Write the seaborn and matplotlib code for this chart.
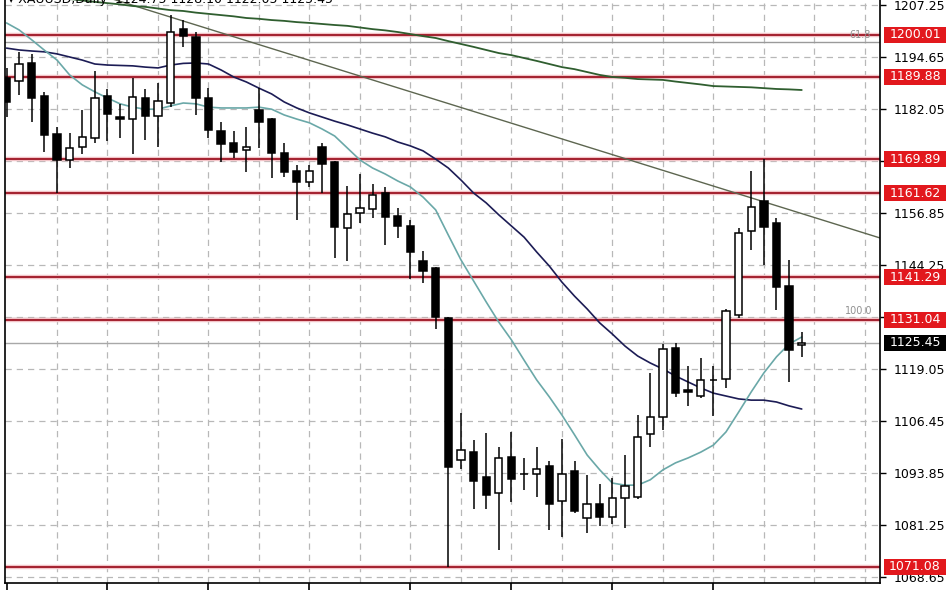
import numpy as np
import pandas as pd
import matplotlib
matplotlib.use("Agg")
import matplotlib.pyplot as plt
from matplotlib.patches import Rectangle
import seaborn as sns

# ---------------- data ----------------
opens = [1189.6, 1188.8, 1193.2, 1185.2, 1176.0, 1169.7, 1172.8, 1175.0, 1185.2, 1180.1,
         1179.6, 1184.7, 1180.4, 1183.5, 1201.4, 1199.5, 1184.7, 1176.7, 1173.8, 1172.1,
         1181.8, 1179.6, 1171.4, 1167.0, 1164.4, 1172.8, 1169.2, 1153.2, 1156.9, 1157.8,
         1161.7, 1156.1, 1153.7, 1145.2, 1143.5, 1131.4, 1097.0, 1098.9, 1092.9, 1089.0,
         1097.7, 1093.7, 1093.6, 1095.5, 1087.1, 1094.3, 1082.9, 1086.3, 1083.2, 1087.8,
         1088.0, 1103.3, 1107.4, 1124.1, 1113.9, 1112.5, 1116.5, 1116.6, 1132.1, 1152.5,
         1159.8, 1154.4, 1139.1, 1124.75]
highs = [1192.0, 1195.9, 1195.4, 1186.2, 1177.7, 1176.2, 1181.8, 1191.3, 1186.9, 1183.3,
         1189.6, 1186.9, 1188.4, 1204.8, 1203.6, 1200.7, 1187.1, 1178.9, 1176.7, 1177.7,
         1187.1, 1179.8, 1173.8, 1168.5, 1168.5, 1173.8, 1169.4, 1163.4, 1166.3, 1163.9,
         1163.2, 1158.1, 1155.2, 1147.6, 1143.7, 1131.6, 1108.4, 1101.8, 1103.5, 1100.1,
         1103.8, 1097.5, 1100.1, 1096.8, 1102.1, 1096.8, 1093.4, 1091.2, 1092.6, 1098.2,
         1107.9, 1118.1, 1125.1, 1125.3, 1119.8, 1121.7, 1119.8, 1133.6, 1153.2, 1167.0,
         1169.9, 1155.6, 1145.5, 1128.10]
lows = [1180.0, 1185.4, 1178.9, 1171.6, 1161.7, 1167.8, 1171.1, 1173.8, 1174.3, 1175.0,
        1171.1, 1174.5, 1172.8, 1182.5, 1197.1, 1180.6, 1175.0, 1169.2, 1170.2, 1166.8,
        1172.6, 1165.3, 1165.6, 1155.2, 1163.2, 1161.7, 1145.9, 1145.2, 1154.4, 1155.6,
        1149.1, 1150.8, 1140.8, 1139.9, 1128.8, 1071.08, 1094.8, 1085.1, 1085.1, 1075.2,
        1086.8, 1089.7, 1088.0, 1080.0, 1078.3, 1084.1, 1079.3, 1081.0, 1081.5, 1080.5,
        1087.5, 1100.1, 1104.3, 1112.2, 1110.1, 1112.0, 1107.7, 1114.4, 1131.4, 1147.9,
        1144.2, 1133.3, 1115.9, 1122.05]
closes = [1183.8, 1193.0, 1184.7, 1175.7, 1169.7, 1172.6, 1175.3, 1184.7, 1180.8, 1179.6,
          1184.9, 1180.4, 1184.0, 1200.7, 1199.7, 1184.7, 1177.0, 1173.6, 1171.6, 1172.8,
          1178.9, 1171.4, 1166.8, 1164.4, 1167.0, 1168.7, 1153.5, 1156.6, 1158.1, 1161.2,
          1155.9, 1153.7, 1147.4, 1142.8, 1131.6, 1095.3, 1099.4, 1091.9, 1088.5, 1097.5,
          1092.4, 1093.5, 1094.8, 1086.3, 1093.6, 1084.6, 1086.3, 1083.2, 1087.8, 1090.7,
          1102.6, 1107.4, 1123.9, 1113.2, 1113.5, 1116.4, 1116.3, 1133.1, 1152.0, 1158.3,
          1153.5, 1138.9, 1123.6, 1125.45]

ma_fast = [1202.9, 1201.2, 1198.8, 1196.3, 1193.9, 1190.3, 1187.9, 1186.2, 1184.7, 1183.3,
           1182.5, 1182.0, 1182.0, 1182.8, 1183.5, 1183.3, 1182.5, 1182.3, 1182.3, 1182.3,
           1182.5, 1182.0, 1180.6, 1179.6, 1178.7, 1177.2, 1175.5, 1172.6, 1169.7, 1167.75,
           1166.3, 1164.6, 1163.15, 1160.7, 1157.6, 1151.5, 1145.5, 1140.4, 1135.3, 1130.4,
           1126.1, 1121.2, 1116.4, 1112.3, 1107.9, 1103.1, 1098.2, 1094.6, 1091.4, 1090.9,
           1090.9, 1092.2, 1094.6, 1096.3, 1097.5, 1098.9, 1100.6, 1103.8, 1108.6, 1113.5,
           1118.1, 1122.0, 1125.1, 1126.8]
ma_mid = [1196.8, 1196.35, 1196.1, 1195.9, 1195.4, 1194.65, 1193.9, 1192.95, 1192.7, 1192.6,
          1192.5, 1192.2, 1192.0, 1192.7, 1193.1, 1193.2, 1192.95, 1191.5, 1189.8, 1188.6,
          1187.1, 1185.7, 1183.75, 1182.3, 1181.1, 1180.1, 1179.1, 1178.2, 1177.2, 1176.2,
          1175.3, 1174.05, 1173.1, 1171.9, 1169.9, 1167.75, 1164.85, 1161.7, 1159.3, 1156.4,
          1153.7, 1151.0, 1147.4, 1144.0, 1140.1, 1136.7, 1133.6, 1130.2, 1127.5, 1124.6,
          1122.2, 1120.5, 1119.05, 1117.35, 1115.9, 1114.45, 1113.2, 1112.5, 1111.8, 1111.5,
          1111.5, 1111.05, 1110.1, 1109.35]
ma_slow = [1210.16, 1209.9, 1209.55, 1209.3, 1208.95, 1208.7, 1208.35, 1208.0, 1207.7, 1207.4,
           1207.0, 1206.8, 1206.4, 1206.0, 1205.8, 1205.4, 1205.1, 1204.8, 1204.5, 1204.1,
           1203.9, 1203.6, 1203.4, 1203.1, 1202.9, 1202.65, 1202.4, 1202.2, 1201.8, 1201.4,
           1201.1, 1200.7, 1200.2, 1199.7, 1199.25, 1198.5, 1197.8, 1197.1, 1196.35, 1195.6,
           1195.1, 1194.4, 1193.7, 1192.95, 1192.2, 1191.7, 1191.0, 1190.3, 1189.8, 1189.6,
           1189.3, 1189.2, 1189.1, 1188.7, 1188.35, 1188.0, 1187.6, 1187.5, 1187.4, 1187.3,
           1187.1, 1186.9, 1186.8, 1186.65]

trend_x = [0.0, 69.2]
trend_y = [1216.7, 1150.8]

levels = [1200.01, 1189.88, 1169.89, 1161.62, 1141.29, 1131.04, 1071.08]
current_price = 1125.45
fib_levels = [1198.3, 1131.3]
fib_labels = ["61.8", "100.0"]

yticks = [1207.25, 1194.65, 1182.05, 1169.45, 1156.85, 1144.25, 1131.65,
          1119.05, 1106.45, 1093.85, 1081.25, 1068.65]
# labels at 1169.45 and 1131.65 are covered by level boxes in the reference
ytick_labels = ["1207.25", "1194.65", "1182.05", "", "1156.85", "1144.25", "",
                "1119.05", "1106.45", "1093.85", "1081.25", "1068.65"]
header = "▾ XAUUSD,Daily  1124.75 1128.10 1122.05 1125.45"

# ---------------- figure ----------------
sns.set_theme(style="white")
plt.rcParams['font.family'] = ['DejaVu Sans']

W, H = 948, 593
fig = plt.figure(figsize=(W / 100, H / 100), dpi=100)
fig.patch.set_facecolor("white")
ax = fig.add_axes([5 / W, 10 / H, 875 / W, 583 / H])
ax.set_facecolor("white")

n = len(opens)
idx = np.arange(n)
xmin, xmax = -0.12, 69.2
ymin, ymax = 1067.19, 1208.46
ax.set_xlim(xmin, xmax)
ax.set_ylim(ymin, ymax)

grid_kw = dict(color="#b8b8b8", lw=0.9, ls=(0, (5, 4)), zorder=0)
for yv in yticks:
    ax.axhline(yv, **grid_kw)
for xv in range(4, 69, 4):
    ax.axvline(xv, **grid_kw)

# fib & levels
for fl in fib_levels:
    ax.axhline(fl, color="#9a9a9a", lw=1.0, zorder=1)
ax.text(66.8, fib_levels[0] + 0.4, fib_labels[0], fontsize=7, color="#909090", va="bottom", ha="left")
ax.text(66.4, fib_levels[1] + 0.6, fib_labels[1], fontsize=7, color="#909090", va="bottom", ha="left")
ax.axhline(current_price, color="#a8a8a8", lw=1.0, zorder=1)
for lv in levels:
    ax.axhline(lv, color="#f3c4c8", lw=3.2, zorder=1.2)
    ax.axhline(lv, color="#a3202e", lw=1.4, zorder=1.3)

# trendline
ax.plot(trend_x, trend_y, color="#5d6650", lw=1.0, zorder=2)

# moving averages via seaborn
df = pd.DataFrame({"i": idx, "fast": ma_fast, "mid": ma_mid, "slow": ma_slow})
sns.lineplot(data=df, x="i", y="slow", ax=ax, color="#2f5e2f", lw=1.3, zorder=2)
sns.lineplot(data=df, x="i", y="mid", ax=ax, color="#1c1c55", lw=1.2, zorder=2)
sns.lineplot(data=df, x="i", y="fast", ax=ax, color="#6aa8a8", lw=1.2, zorder=2)

# candles
o = np.array(opens); c = np.array(closes); h = np.array(highs); l = np.array(lows)
ax.vlines(idx, l, h, color="black", lw=1.1, zorder=3)
bull = c >= o
bottoms = np.minimum(o, c)
heights = np.maximum(np.abs(c - o), 0.15)
ax.bar(idx[bull], heights[bull], bottom=bottoms[bull], width=0.58,
       color="white", edgecolor="black", linewidth=1.1, zorder=4)
ax.bar(idx[~bull], heights[~bull], bottom=bottoms[~bull], width=0.58,
       color="black", edgecolor="black", linewidth=1.1, zorder=4)

# axes style
ax.set_xlabel(""); ax.set_ylabel("")
for s in ["left", "right", "bottom"]:
    ax.spines[s].set_visible(True)
    ax.spines[s].set_color("black")
    ax.spines[s].set_linewidth(1.2)
ax.spines["top"].set_visible(False)
ax.yaxis.tick_right()
ax.set_yticks(yticks)
ax.set_yticklabels(ytick_labels, fontsize=9, color="black")
ax.tick_params(axis="y", which="both", direction="out", length=4, width=1, color="black",
               pad=6, left=False, right=True)
ax.set_xticks(list(range(0, 57, 8)))
ax.set_xticklabels([])
ax.tick_params(axis="x", direction="out", length=5, width=1.2, color="black", bottom=True)

# right-side labels
tr = ax.get_yaxis_transform()
bx0 = 1.0 + 4 / 875
bw = 62 / 875
bh = 16 / 4.127
for lv in levels:
    ax.add_patch(Rectangle((bx0, lv - bh / 2), bw, bh, transform=tr, clip_on=False,
                           facecolor="#e2181d", edgecolor="none", zorder=10))
    ax.text(bx0 + bw / 2, lv, f"{lv:.2f}", transform=tr, ha="center", va="center",
            fontsize=9, color="white", zorder=11, clip_on=False)
ax.add_patch(Rectangle((bx0, current_price - bh / 2), bw, bh, transform=tr, clip_on=False,
                       facecolor="black", edgecolor="none", zorder=10))
ax.text(bx0 + bw / 2, current_price, f"{current_price:.2f}", transform=tr, ha="center",
        va="center", fontsize=9, color="white", zorder=11, clip_on=False)

# header (cut off at the top as in the reference)
fig.text(8 / W, 1 - 2.5 / H, header, fontsize=9, color="black", ha="left", va="baseline")

fig.savefig("out.png", dpi=100)
